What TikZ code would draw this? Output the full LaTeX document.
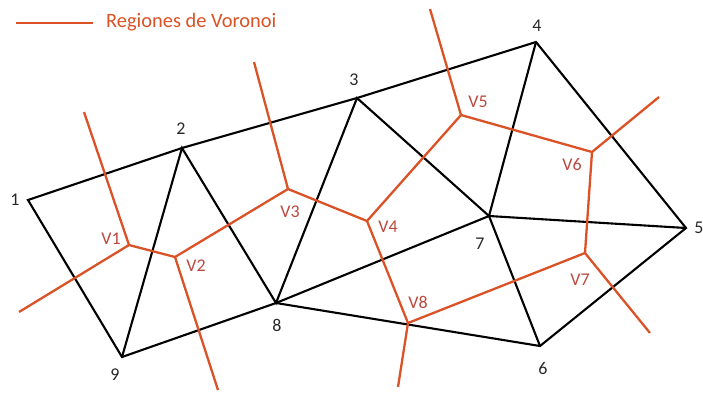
\documentclass[tikz,border=0pt]{standalone}
\usepackage{fontspec}
\setmainfont{Carlito}
\definecolor{vor}{RGB}{218,82,38}
\definecolor{vlab}{RGB}{188,72,62}
\definecolor{plab}{RGB}{40,40,40}
\begin{document}
\begin{tikzpicture}[x=1bp,y=-1bp,
  tri/.style={line width=2.1bp,black,line join=miter},
  vline/.style={line width=2.3bp,vor},
  plabel/.style={font=\fontsize{18}{18}\selectfont,text=plab,inner sep=0pt},
  vlabel/.style={font=\fontsize{18}{18}\selectfont,text=vlab,inner sep=0pt}]
\useasboundingbox (0,0) rectangle (703,393);
% Delaunay points
\coordinate (p1) at (28,200);
\coordinate (p2) at (182,148);
\coordinate (p3) at (357,98);
\coordinate (p4) at (536,42);
\coordinate (p5) at (686,228);
\coordinate (p6) at (540,346);
\coordinate (p7) at (489,216);
\coordinate (p8) at (276,303);
\coordinate (p9) at (122,357);
% Voronoi vertices
\coordinate (v1) at (129,245);
\coordinate (v2) at (175,257);
\coordinate (v3) at (288,189);
\coordinate (v4) at (367,221);
\coordinate (v5) at (461,115);
\coordinate (v6) at (592,152);
\coordinate (v7) at (585,253);
\coordinate (v8) at (408,323);
% ray ends
\coordinate (r1) at (84,112);
\coordinate (r2) at (19,312);
\coordinate (r3) at (218,390);
\coordinate (r4) at (254,62);
\coordinate (r5) at (430,9);
\coordinate (r6) at (659,97);
\coordinate (r7) at (650,333);
\coordinate (r8) at (398,387);
% triangulation
\draw[tri] (p1) -- (p2) -- (p3) -- (p4) -- (p5) -- (p6) -- (p8) -- (p9) -- cycle;
\draw[tri] (p9) -- (p2) -- (p8) -- (p3) -- (p7) -- (p8);
\draw[tri] (p4) -- (p7) -- (p5);
\draw[tri] (p7) -- (p6);
% voronoi
\draw[vline] (r1) -- (v1) -- (r2);
\draw[vline] (v1) -- (v2) -- (r3);
\draw[vline] (v2) -- (v3) -- (r4);
\draw[vline] (v3) -- (v4) -- (v5) -- (r5);
\draw[vline] (v5) -- (v6) -- (r6);
\draw[vline] (v6) -- (v7) -- (r7);
\draw[vline] (v7) -- (v8) -- (r8);
\draw[vline] (v4) -- (v8);
% point labels
\node[plabel] (l1) at (15,200) {1};
\node[plabel] (l2) at (181,129) {2};
\node[plabel] (l3) at (354,80) {3};
\node[plabel] (l4) at (537,26) {4};
\node[plabel] (l5) at (699,228) {5};
\node[plabel] (l6) at (543,368) {6};
\node[plabel] (l7) at (480,244) {7};
\node[plabel] (l8) at (277,325) {8};
\node[plabel] (l9) at (115,375) {9};
% voronoi labels
\node[vlabel] (lv1) at (111,239) {V1};
\node[vlabel] (lv2) at (196,266) {V2};
\node[vlabel] (lv3) at (290,212) {V3};
\node[vlabel] (lv4) at (388,227) {V4};
\node[vlabel] (lv5) at (478,102) {V5};
\node[vlabel] (lv6) at (572,165) {V6};
\node[vlabel] (lv7) at (580,280) {V7};
\node[vlabel] (lv8) at (418,302) {V8};
% legend
\coordinate (la) at (16,23);
\coordinate (lb) at (93,23);
\draw[vline] (la) -- (lb);
\node[anchor=west,inner sep=0pt,text=vor,font=\fontsize{20.5}{20.5}\selectfont] (leg) at (106,22) {Regiones de Voronoi};
\end{tikzpicture}
\end{document}
